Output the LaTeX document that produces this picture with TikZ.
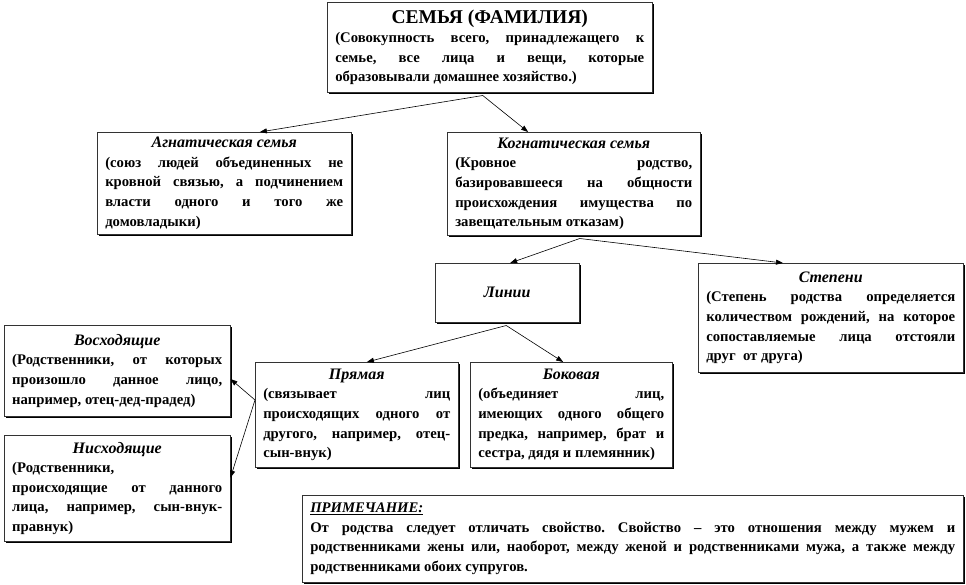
\documentclass[tikz,border=0pt]{standalone}
\usepackage{fontspec}
\setmainfont{Liberation Serif}
\usetikzlibrary{calc,shadows,arrows.meta}

\begin{document}
\frenchspacing
\begin{tikzpicture}[x=1pt,y=-1pt,
        block/.style={draw=black!80,line width=0.5pt,fill=white,anchor=north west,
            align=justify,inner xsep=8pt,inner ysep=3pt,
            font=\fontsize{14.7}{19.6}\selectfont\bfseries,
            drop shadow={shadow xshift=1.8pt,shadow yshift=-1.8pt,fill=black,opacity=1}},
        link/.style={line width=0.6pt,-{Triangle[length=7pt,width=5pt]}}]
        \useasboundingbox (0,0) rectangle (966,585);

        \node[block,text width=309pt,minimum height=90pt] (family) at (327,2)
            {\centerline{\fontsize{19.5}{22}\selectfont СЕМЬЯ (ФАМИЛИЯ)}
            (Совокупность всего, принадлежащего к\linebreak
            семье, все лица и вещи, которые\linebreak
            образовывали домашнее хозяйство.)};

        \node[block,text width=238pt,minimum height=102pt] (agnat) at (97,132)
            {\centerline{\fontsize{16}{21}\selectfont\itshape Агнатическая семья}
            (союз людей объединенных не\linebreak
            кровной связью, а подчинением\linebreak
            власти одного и того же\linebreak
            домовладыки)};
        \node[block,text width=237pt,minimum height=103pt] (kogn) at (447,132)
            {\centerline{\fontsize{16}{21}\selectfont\itshape Когнатическая семья}
            (Кровное родство,\linebreak
            базировавшееся на общности\linebreak
            происхождения имущества по\linebreak
            завещательным отказам)};

        \node[block,text width=128pt,minimum height=59pt,align=center] (linii) at (435,263)
            {\fontsize{16}{21}\selectfont\itshape Линии};
        \node[block,text width=249pt,minimum height=109pt] (stepeni) at (698,263)
            {\centerline{\fontsize{16}{21}\selectfont\itshape Степени}
            (Степень родства определяется\linebreak
            количеством рождений, на которое\linebreak
            сопоставляемые лица отстояли\linebreak
            друг \ от друга)};

        \node[block,text width=210pt,minimum height=91pt] (voshod) at (4,325)
            {\centerline{\fontsize{16}{21}\selectfont\itshape Восходящие}
            (Родственники, от которых\linebreak
            произошло данное лицо,\linebreak
            например, отец-дед-прадед)};
        \node[block,text width=210pt,minimum height=106pt] (nishod) at (4,435)
            {\centerline{\fontsize{16}{21}\selectfont\itshape Нисходящие}
            (Родственники,\newline
            происходящие от данного\linebreak
            лица, например, сын-внук-\linebreak
            правнук)};

        \node[block,text width=187pt,minimum height=105pt] (pryam) at (255,362)
            {\centerline{\fontsize{16}{21}\selectfont\itshape Прямая}
            (связывает лиц\linebreak
            происходящих одного от\linebreak
            другого, например, отец-\linebreak
            сын-внук)};
        \node[block,text width=186pt,minimum height=105pt] (bokov) at (470,362)
            {\centerline{\fontsize{16}{21}\selectfont\itshape Боковая}
            (объединяет лиц,\linebreak
            имеющих одного общего\linebreak
            предка, например, брат и\linebreak
            сестра, дядя и племянник)};

        \node[block,text width=645pt,minimum height=87pt] (note) at (302,495)
            {\underline{\itshape ПРИМЕЧАНИЕ:}\newline
            От родства следует отличать свойство. Свойство – это отношения между мужем и\linebreak
            родственниками жены или, наоборот, между женой и родственниками мужа, а также между\linebreak
            родственниками обоих супругов.};

        \coordinate (famsplit) at ($(family.south)+(-7,3)$);
        \draw[link] (famsplit) -- ($(agnat.north west)!0.64!(agnat.north east)$);
        \draw[link] (famsplit) -- ($(kogn.north west)!0.32!(kogn.north east)$);

        \coordinate (kognsplit) at ($(kogn.south)+(6,3)$);
        \draw[link] (kognsplit) -- ($(linii.north west)!0.52!(linii.north east)$);
        \draw[link] (kognsplit) -- ($(stepeni.north west)!0.32!(stepeni.north east)$);

        \coordinate (liniisplit) at ($(linii.south)+(-1,3)$);
        \draw[link] (liniisplit) -- ($(pryam.north west)!0.55!(pryam.north east)$);
        \draw[link] (liniisplit) -- ($(bokov.north west)!0.46!(bokov.north east)$);

        \coordinate (pryamsplit) at ($(pryam.north west)!0.36!(pryam.south west)$);
        \draw[link] (pryamsplit) -- ($(voshod.north east)!0.59!(voshod.south east)$);
        \draw[link] (pryamsplit) -- ($(nishod.north east)!0.4!(nishod.south east)$);
    \end{tikzpicture}
\end{document}
